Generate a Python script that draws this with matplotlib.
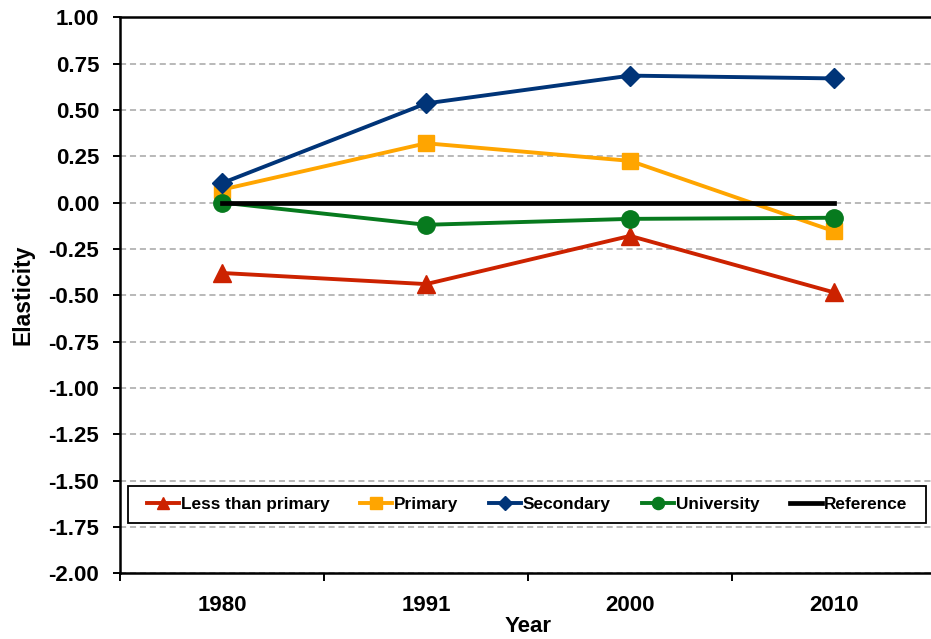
# Elasticity by education level, 1980-2010

import matplotlib.pyplot as plt
from matplotlib.ticker import FixedLocator
from matplotlib.patches import Rectangle

plt.rcParams['font.family'] = ['Liberation Sans', 'DejaVu Sans']
plt.rcParams['font.weight'] = 'bold'

years = ["1980", "1991", "2000", "2010"]
less_than_primary = [-0.38, -0.44, -0.18, -0.485]
primary = [0.07, 0.32, 0.225, -0.155]
secondary = [0.105, 0.535, 0.685, 0.67]
university = [0.0, -0.12, -0.088, -0.082]
reference = [0.0, 0.0, 0.0, 0.0]

x = list(range(len(years)))

fig = plt.figure(figsize=(9.31, 6.39), dpi=100)
ax = fig.add_axes([0.129, 0.103, 0.8765, 0.870])

ax.plot(x, less_than_primary, color="#CC2200", lw=2.8, marker="^", ms=13,
        label="Less than primary", zorder=3)
ax.plot(x, primary, color="#FFA500", lw=2.8, marker="s", ms=12,
        label="Primary", zorder=3)
ax.plot(x, secondary, color="#003478", lw=2.8, marker="D", ms=10,
        label="Secondary", zorder=4)
ax.plot(x, university, color="#077A1E", lw=2.8, marker="o", ms=12.5,
        label="University", zorder=4)
ax.plot(x, reference, color="black", lw=3.4, label="Reference", zorder=5)

ax.set_ylim(-2.0, 1.0)
ax.set_xlim(-0.5, len(years) - 0.5)
ax.set_yticks([i * 0.25 - 2.0 for i in range(13)])
ax.set_yticklabels(["%.2f" % (i * 0.25 - 2.0) for i in range(13)])
ax.set_xticks(x)
ax.set_xticklabels(years)
ax.xaxis.set_minor_locator(FixedLocator([i - 0.5 for i in range(len(years) + 1)]))

ax.tick_params(axis="y", direction="out", length=5, width=1.4, pad=10, labelsize=16)
ax.tick_params(axis="x", which="major", length=0, pad=16, labelsize=16)
ax.tick_params(axis="x", which="minor", direction="out", length=6, width=1.4)

ax.grid(axis="y", color="#A6A6A6", ls=(0, (4, 2.5)), lw=1.1)
ax.set_axisbelow(True)
for s in ["left", "bottom", "top", "right"]:
    ax.spines[s].set_linewidth(1.8)

ax.set_ylabel("Elasticity", fontsize=16.5, fontweight="bold", labelpad=10)
ax.set_xlabel("Year", fontsize=16, fontweight="bold", labelpad=0)

# legend box drawn separately so it can be wider than its entries
box = Rectangle((0.0098, 0.0899), 0.978, 0.0666, transform=ax.transAxes,
                facecolor="white", edgecolor="black", lw=1.3, zorder=9)
ax.add_patch(box)
leg = ax.legend(loc="center", bbox_to_anchor=(0.4988, 0.123), ncol=5,
                fontsize=12.4, frameon=False,
                handlelength=1.85, handletextpad=0.1, columnspacing=1.8,
                markerscale=0.7)
leg.set_zorder(10)

fig.savefig("out.png", dpi=100)
